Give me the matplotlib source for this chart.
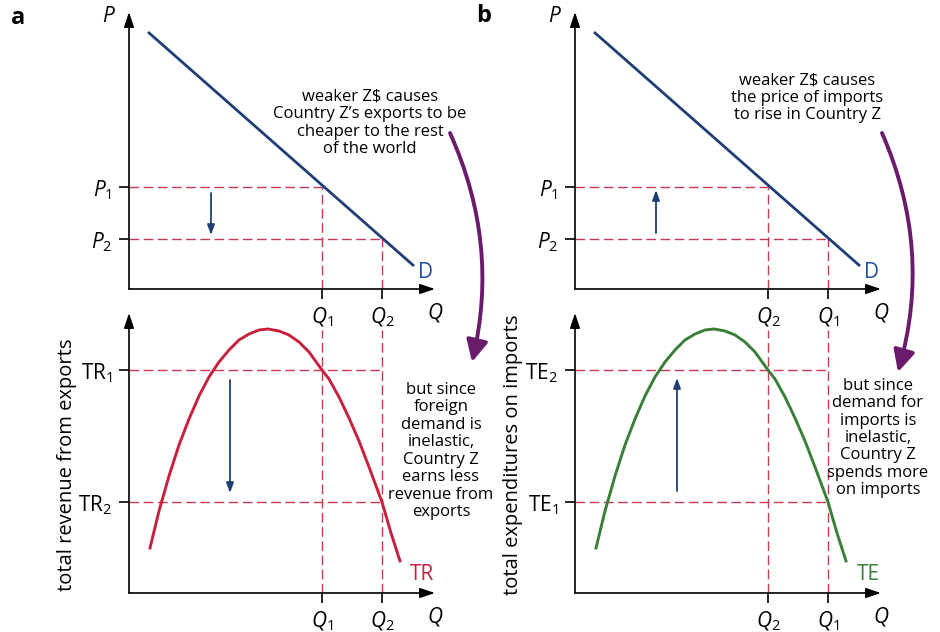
import matplotlib.pyplot as plt
from matplotlib.patches import FancyArrowPatch

plt.rcParams['font.family'] = ['Open Sans', 'DejaVu Sans']
plt.rcParams['mathtext.fontset'] = 'custom'
plt.rcParams['mathtext.rm'] = 'Open Sans'
plt.rcParams['mathtext.it'] = 'Open Sans:italic'
plt.rcParams['mathtext.bf'] = 'Open Sans:bold'

W, H = 940, 632

# demand line (quantity, price), same in both panels
demand_q = [1.9, 28.5]
demand_p = [25.7, 2.3]

# reference levels
price_levels = [10.2, 5.0]   # upper, lower price
qty_levels = [19.3, 25.3]    # left, right quantity
total_levels = [22.3, 9.1]   # upper, lower total revenue / expenditure

# total revenue / expenditure curve
curve_q = [2.1, 3.0, 4.0, 5.0, 6.0, 7.0, 8.0, 9.0, 10.0, 11.0, 12.0, 13.0, 13.9,
           15.0, 16.0, 17.0, 18.0, 19.3, 20.0, 21.0, 22.0, 23.0, 24.0, 25.3, 26.2, 27.1]
curve_v = [4.5, 8.2, 11.7, 14.8, 17.4, 19.7, 21.6, 23.1, 24.3, 25.3, 25.9, 26.3, 26.4,
           26.2, 25.8, 25.1, 24.1, 22.3, 21.4, 19.6, 17.5, 15.2, 12.6, 9.1, 6.0, 3.2]

# per-panel labels
p_labels = ['$P_1$', '$P_2$']
q_labels_a = ['$Q_1$', '$Q_2$']
q_labels_b = ['$Q_2$', '$Q_1$']
v_labels_a = [r'$\mathrm{TR}_1$', r'$\mathrm{TR}_2$']
v_labels_b = [r'$\mathrm{TE}_2$', r'$\mathrm{TE}_1$']

NAVY = '#1f3f74'
DASH = '#c83a55'
PURPLE = '#6a1b6c'


def fig_rect(x0, y0, x1, y1):
    # pixel box (top-left origin) -> figure fraction rect
    return [x0 / W, 1 - y1 / H, (x1 - x0) / W, (y1 - y0) / H]


def dashed(ax, xs, ys):
    ax.plot(xs, ys, color=DASH, lw=1.0, dashes=(7, 3.2), clip_on=False, zorder=1)


def setup_axes(ax, ymax, qlabs, vlabs, vlevels):
    ax.set_xlim(0, 30.6)
    ax.set_ylim(0, ymax)
    for s in ax.spines.values():
        s.set_visible(False)
    ax.set_facecolor('none')
    arrow = dict(arrowstyle='-|>,head_length=0.9,head_width=0.3', color='black',
                 lw=1.2, shrinkA=0, shrinkB=0)
    ax.annotate('', xy=(1, 0), xytext=(0, 0), xycoords='axes fraction',
                arrowprops=arrow, annotation_clip=False)
    ax.annotate('', xy=(0, 1), xytext=(0, 0), xycoords='axes fraction',
                arrowprops=arrow, annotation_clip=False)
    ax.set_xticks(qty_levels)
    ax.set_xticklabels(qlabs, fontsize=15)
    ax.set_yticks(vlevels)
    ax.set_yticklabels(vlabs, fontsize=15)
    ax.tick_params(length=7, width=1.2, pad=5, color='black')
    ax.text(1.0, -0.085, '$Q$', transform=ax.transAxes, fontsize=15,
            ha='center', va='center')


def draw_panel(x0, qlabs, vlabs, curve_color, curve_name, ylabel, label_y, up):
    top = fig.add_axes(fig_rect(x0, 12, x0 + 306, 289))
    bot = fig.add_axes(fig_rect(x0, 313, x0 + 306, 593))
    setup_axes(top, 27.7, qlabs, p_labels, price_levels)
    setup_axes(bot, 28.0, qlabs, vlabs, total_levels)
    top.text(-0.065, 0.985, '$P$', transform=top.transAxes, fontsize=15,
             ha='center', va='center')

    # top: demand curve with guide lines
    dashed(top, [0, qty_levels[0]], [price_levels[0]] * 2)
    dashed(top, [0, qty_levels[1]], [price_levels[1]] * 2)
    dashed(top, [qty_levels[0]] * 2, [0, price_levels[0]])
    dashed(top, [qty_levels[1]] * 2, [0, price_levels[1]])
    top.plot(demand_q, demand_p, color=NAVY, lw=2.0, solid_capstyle='butt', zorder=3)
    top.text(29.6, 1.7, 'D', color='#1f4e9c', fontsize=15, ha='center', va='center')

    # bottom: total revenue / expenditure curve
    for lv in total_levels:
        dashed(bot, [0, qty_levels[1]], [lv, lv])
    for q in qty_levels:
        dashed(bot, [q, q], [0, 26.3])
    bot.plot(curve_q, curve_v, color=curve_color, lw=2.1, zorder=3,
             solid_joinstyle='round')
    bot.text(29.3, 1.8, curve_name, color=curve_color, fontsize=15,
             ha='center', va='center')
    bot.set_ylabel(ylabel, fontsize=14.5)
    bot.yaxis.set_label_coords(-0.169, label_y)

    small = dict(arrowstyle='-|>,head_length=0.6,head_width=0.22', color=NAVY,
                 lw=1.3, shrinkA=0, shrinkB=0)
    if up:
        top.annotate('', xy=(8.1, 9.9), xytext=(8.1, 5.6), arrowprops=small)
        bot.annotate('', xy=(10.2, 21.5), xytext=(10.2, 10.2), arrowprops=small)
    else:
        top.annotate('', xy=(8.2, 5.4), xytext=(8.2, 9.6), arrowprops=small)
        bot.annotate('', xy=(10.1, 10.0), xytext=(10.1, 21.3), arrowprops=small)
    return top, bot


def fig_text(x, y, s, **kw):
    fig.text(x / W, 1 - y / H, s, parse_math=False, **kw)


def curved_arrow(x0, y0, x1, y1, rad):
    arr = FancyArrowPatch((x0 / W, 1 - y0 / H), (x1 / W, 1 - y1 / H),
                          transform=fig.transFigure, connectionstyle=f'arc3,rad={rad}',
                          arrowstyle='-|>,head_length=13,head_width=6.5',
                          color=PURPLE, lw=2.8, shrinkA=0, shrinkB=0)
    fig.add_artist(arr)


fig = plt.figure(figsize=(W / 100, H / 100), dpi=100)

draw_panel(129, q_labels_a, v_labels_a, '#c8203c', 'TR',
           'total revenue from exports', 0.457, up=False)
draw_panel(575, q_labels_b, v_labels_b, '#3a7f37', 'TE',
           'total expenditures on imports', 0.493, up=True)

fig_text(18, 18, 'a', fontsize=17, fontweight='bold', ha='center', va='center')
fig_text(484, 16, 'b', fontsize=17, fontweight='bold', ha='center', va='center')

fig_text(370, 123, 'weaker Z$ causes\nCountry Z\u2019s exports to be\ncheaper to the rest\nof the world',
         fontsize=12, ha='center', va='center', linespacing=1.12)
fig_text(441, 451, 'but since\nforeign\ndemand is\ninelastic,\nCountry Z\nearns less\nrevenue from\nexports',
         fontsize=12, ha='center', va='center', linespacing=1.12)
fig_text(807, 98, 'weaker Z$ causes\nthe price of imports\nto rise in Country Z',
         fontsize=12, ha='center', va='center', linespacing=1.12)
fig_text(878, 438, 'but since\ndemand for\nimports is\ninelastic,\nCountry Z\nspends more\non imports',
         fontsize=12, ha='center', va='center', linespacing=1.12)

curved_arrow(450, 133, 472, 362, -0.17)
curved_arrow(882, 133, 898, 372, -0.18)

fig.savefig('out.png', dpi=100)
